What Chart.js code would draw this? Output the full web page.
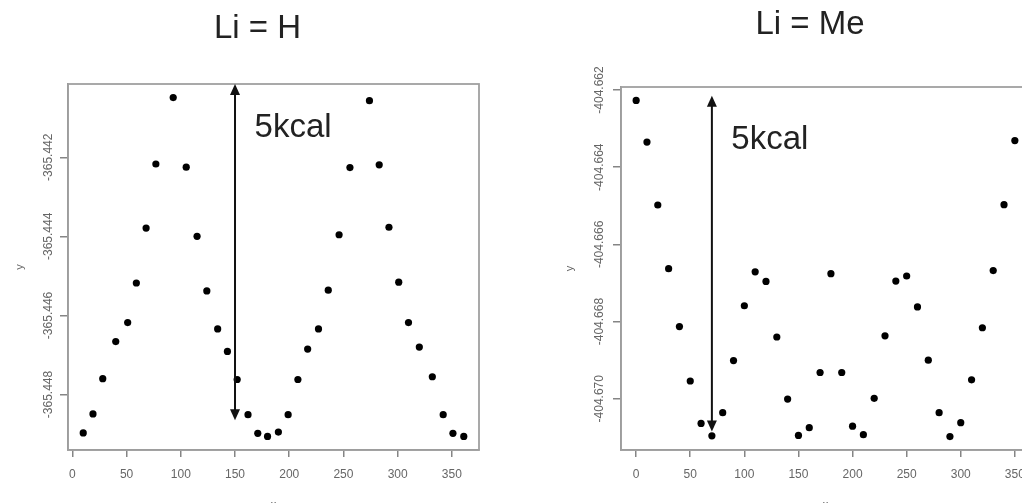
<!DOCTYPE html>
<html lang="en">
<head>
<meta charset="UTF-8">
<title>Li = H / Li = Me</title>
<script src="https://cdn.jsdelivr.net/npm/chart.js@4.4.0/dist/chart.umd.min.js"></script>
<style>
  html, body { margin: 0; padding: 0; background: #fff; overflow: hidden; }
  #wrap { position: relative; width: 1022px; height: 503px; overflow: hidden; }
  #chartH { position: absolute; left: 0; top: 0; }
  #chartMe { position: absolute; left: 515px; top: 0; }
</style>
</head>
<body>
<div id="wrap">
  <canvas id="chartH" width="515" height="520"></canvas>
  <canvas id="chartMe" width="530" height="520"></canvas>
</div>
<script>
  // Li = H : dihedral angle vs energy (hartree)
  const hAngle = [10, 19, 28, 40, 51, 59, 68, 77, 93, 105, 115, 124, 134, 143, 152, 162, 171, 180,
                  190, 199, 208, 217, 227, 236, 246, 256, 274, 283, 292, 301, 310, 320, 332, 342, 351, 361];
  const hEnergy = [-365.44897, -365.44849, -365.44760, -365.44666, -365.44618, -365.44518, -365.44379, -365.44217,
                   -365.44049, -365.44225, -365.44400, -365.44538, -365.44634, -365.44691, -365.44762, -365.44851,
                   -365.44898, -365.44906, -365.44895, -365.44851, -365.44762, -365.44685, -365.44634, -365.44536,
                   -365.44396, -365.44226, -365.44057, -365.44219, -365.44377, -365.44516, -365.44618, -365.44680,
                   -365.44755, -365.44851, -365.44898, -365.44906];

  // Li = Me
  const meAngle = [0, 10, 20, 30, 40, 50, 60, 70, 80, 90, 100, 110, 120, 130, 140, 150, 160, 170,
                   180, 190, 200, 210, 220, 230, 240, 250, 260, 270, 280, 290, 300, 310, 320, 330, 340, 350];
  const meEnergy = [-404.66227, -404.66335, -404.66498, -404.66663, -404.66813, -404.66954, -404.67064, -404.67096,
                    -404.67036, -404.66901, -404.66759, -404.66671, -404.66696, -404.66840, -404.67001, -404.67095,
                    -404.67075, -404.66932, -404.66676, -404.66932, -404.67071, -404.67093, -404.66999, -404.66837,
                    -404.66695, -404.66682, -404.66762, -404.66900, -404.67036, -404.67098, -404.67062, -404.66951,
                    -404.66816, -404.66668, -404.66497, -404.66331];

  const ticksX = [0, 50, 100, 150, 200, 250, 300, 350];
  const hTicksY = [-365.448, -365.446, -365.444, -365.442];
  const meTicksY = [-404.670, -404.668, -404.666, -404.664, -404.662];

  // arrow: [x, y top, y bottom]; note: [text, x, y]
  const hArrow = [150, -365.44015, -365.44865];
  const meArrow = [70, -404.66215, -404.67085];
  const hNote = ['5kcal', 168, -365.44150];
  const meNote = ['5kcal', 88, -404.66352];

  const family = '"Liberation Sans", Arial, Helvetica, sans-serif';
  const boxGrey = '#a0a0a0';
  const axisGrey = '#858585';
  const labelGrey = '#666';

  // R style 4% padding around the data
  function padRange(vals) {
    const lo = Math.min(...vals), hi = Math.max(...vals);
    const d = (hi - lo) * 0.04;
    return [lo - d, hi + d];
  }

  function extrasPlugin(arrow, note) {
    return {
      id: 'extras',
      beforeDatasetsDraw(chart) {
        const a = chart.chartArea, ctx = chart.ctx;
        ctx.save();
        ctx.strokeStyle = boxGrey;
        ctx.lineWidth = 1.8;
        ctx.strokeRect(a.left, a.top, a.right - a.left, a.bottom - a.top);
        ctx.restore();
      },
      afterDatasetsDraw(chart) {
        const ctx = chart.ctx, sx = chart.scales.x, sy = chart.scales.y;
        const px = sx.getPixelForValue(arrow[0]);
        const y1 = sy.getPixelForValue(arrow[1]);
        const y2 = sy.getPixelForValue(arrow[2]);
        ctx.save();
        ctx.strokeStyle = '#111';
        ctx.fillStyle = '#111';
        ctx.lineWidth = 2;
        ctx.beginPath();
        ctx.moveTo(px, y1 + 6);
        ctx.lineTo(px, y2 - 6);
        ctx.stroke();
        ctx.beginPath();
        ctx.moveTo(px, y1);
        ctx.lineTo(px - 5, y1 + 11);
        ctx.lineTo(px + 5, y1 + 11);
        ctx.closePath();
        ctx.fill();
        ctx.beginPath();
        ctx.moveTo(px, y2);
        ctx.lineTo(px - 5, y2 - 11);
        ctx.lineTo(px + 5, y2 - 11);
        ctx.closePath();
        ctx.fill();
        ctx.fillStyle = '#222';
        ctx.font = '33px ' + family;
        ctx.textAlign = 'left';
        ctx.textBaseline = 'alphabetic';
        ctx.fillText(note[0], sx.getPixelForValue(note[1]), sy.getPixelForValue(note[2]));
        ctx.restore();
      }
    };
  }

  function makeChart(id, cfg) {
    const xr = padRange(cfg.xs), yr = padRange(cfg.ys);
    const ctx = document.getElementById(id).getContext('2d');
    return new Chart(ctx, {
      type: 'scatter',
      data: {
        datasets: [{
          data: cfg.xs.map((x, i) => ({x: x, y: cfg.ys[i]})),
          backgroundColor: '#000',
          borderWidth: 0,
          pointRadius: 3.6
        }]
      },
      options: {
        responsive: false,
        animation: false,
        events: [],
        layout: {padding: {left: cfg.padLeft, top: 0, right: cfg.padRight, bottom: 0}},
        plugins: {
          legend: {display: false},
          tooltip: {enabled: false},
          title: {
            display: true,
            text: cfg.title,
            color: '#222',
            font: {size: 33, family: family, weight: 'normal'},
            padding: {top: cfg.titleTop, bottom: cfg.titleBottom}
          }
        },
        scales: {
          x: {
            type: 'linear',
            min: xr[0],
            max: xr[1],
            afterBuildTicks: s => { s.ticks = ticksX.map(v => ({value: v})); },
            afterFit: s => { s.height = 70; },
            grid: {drawOnChartArea: false, drawTicks: true, tickLength: 7, color: axisGrey, lineWidth: 1.5},
            border: {display: true, color: axisGrey, width: 1.5},
            ticks: {color: labelGrey, font: {size: 12, family: family}, padding: 10, maxRotation: 0, autoSkip: false},
            title: {display: true, text: 'x', color: labelGrey, font: {size: 11, family: family}, padding: {top: 0, bottom: 8}}
          },
          y: {
            type: 'linear',
            min: yr[0],
            max: yr[1],
            afterBuildTicks: s => { s.ticks = cfg.ticksY.map(v => ({value: v})); },
            afterFit: s => { s.width = cfg.yWidth; },
            grid: {drawOnChartArea: false, drawTicks: true, tickLength: 8, color: axisGrey, lineWidth: 1.5},
            border: {display: true, color: axisGrey, width: 1.5},
            ticks: {
              color: labelGrey,
              font: {size: 12, family: family},
              minRotation: 90,
              maxRotation: 90,
              crossAlign: 'center',
              padding: cfg.yTickPad,
              autoSkip: false,
              callback: v => v.toFixed(3)
            },
            title: {display: true, text: 'y', color: labelGrey, font: {size: 11, family: family}, padding: {top: cfg.yTitlePad, bottom: 0}}
          }
        }
      },
      plugins: [extrasPlugin(cfg.arrow, cfg.note)]
    });
  }

  makeChart('chartH', {
    xs: hAngle, ys: hEnergy, ticksY: hTicksY, title: 'Li = H',
    titleTop: 8.8, titleBottom: 35.6, padLeft: 36, padRight: 36, yWidth: 32, yTickPad: -12.4, yTitlePad: -22.6,
    arrow: hArrow, note: hNote
  });

  makeChart('chartMe', {
    xs: meAngle, ys: meEnergy, ticksY: meTicksY, title: 'Li = Me',
    titleTop: 4.8, titleBottom: 42.6, padLeft: 75, padRight: 15, yWidth: 31, yTickPad: -10, yTitlePad: -26.6,
    arrow: meArrow, note: meNote
  });
</script>
</body>
</html>
